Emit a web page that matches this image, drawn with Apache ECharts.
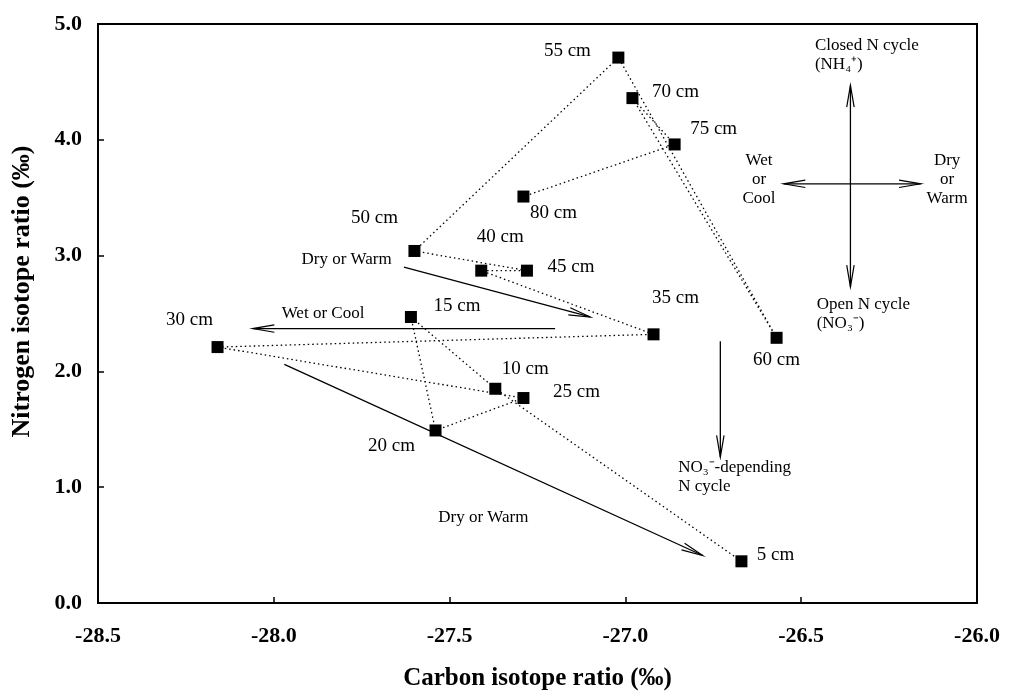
<!DOCTYPE html>
<html>
<head>
<meta charset="utf-8">
<script src="https://cdn.jsdelivr.net/npm/echarts@6/dist/echarts.min.js"></script>
<style>html,body{margin:0;padding:0;background:#fff;}#c{width:1009px;height:696px;}</style>
</head>
<body>
<div id="c"></div>
<script>
// ---- data ----
const depthLabels = ['5 cm','10 cm','15 cm','20 cm','25 cm','30 cm','35 cm','40 cm','45 cm','50 cm','55 cm','60 cm','70 cm','75 cm','80 cm'];
const carbon   = [-26.67,-27.37,-27.61,-27.54,-27.29,-28.16,-26.92,-27.41,-27.28,-27.60,-27.02,-26.57,-26.98,-26.86,-27.29];
const nitrogen = [0.36, 1.85, 2.47, 1.49, 1.77, 2.21, 2.32, 2.87, 2.87, 3.04, 4.71, 2.29, 4.36, 3.96, 3.51];
const xTicks = [-28.5,-28.0,-27.5,-27.0,-26.5,-26.0];
const yTicks = [0,1,2,3,4,5];

// annotation arrows: start (x,y), end (x,y), double-headed flag
const arrowStartX = [-27.63,-27.20,-27.97,-26.73,-26.36,-26.55];
const arrowStartY = [ 2.90,  2.37,  2.06,  2.26,  2.73,  3.62];
const arrowEndX   = [-27.10,-28.06,-26.78,-26.73,-26.36,-26.16];
const arrowEndY   = [ 2.47,  2.37,  0.41,  1.26,  4.47,  3.62];
const arrowHeadStart = [0,0,0,0,1,1];

// annotation texts
const noteTexts = ['Dry or Warm','Wet or Cool','Dry or Warm','NO\u2083\u207B-depending\nN cycle','Closed N cycle\n(NH\u2084\u207A)','Open N cycle\n(NO\u2083\u207B)','Wet\nor\nCool','Dry\nor\nWarm'];
const noteX = [-27.793,-27.86,-27.404,-26.850,-26.461,-26.456,-26.62,-26.085];
const noteY = [ 2.962, 2.504, 0.734, 1.084, 4.732, 2.496, 3.653, 3.653];

// ---- styling (positions of labels relative to points) ----
const labelOffsets = [[34,-6],[30,-20],[46,-11],[-44,16],[53,-6],[-28,-27],[22,-36],[19,-34],[44,-4],[-40,-33],[-51,-7],[0,22],[43,-6],[39,-15],[30,16]];
const noteAlign = ['center','center','center','left','left','left','center','center'];

const FONT = '"Liberation Serif","Times New Roman",serif';

const chart = echarts.init(document.getElementById('c'), null, {renderer:'canvas'});

const pointData = carbon.map((c,i)=>({
  value:[c, nitrogen[i]],
  name: depthLabels[i],
  label:{offset: labelOffsets[i]}
}));

const arrowData = arrowStartX.map((x,i)=>[x, arrowStartY[i], arrowEndX[i], arrowEndY[i], arrowHeadStart[i]]);
const noteData = noteX.map((x,i)=>[x, noteY[i]]);

function head(tip, from){
  const ang = Math.atan2(from[1]-tip[1], from[0]-tip[0]);
  const L = 22, a = 0.17;
  return {
    type:'polyline',
    shape:{points:[[tip[0]+L*Math.cos(ang+a), tip[1]+L*Math.sin(ang+a)], tip, [tip[0]+L*Math.cos(ang-a), tip[1]+L*Math.sin(ang-a)]]},
    style:{stroke:'#000', fill:null, lineWidth:1.2}
  };
}

const option = {
  animation:false,
  backgroundColor:'#fff',
  grid:{left:98, right:32, top:24, bottom:93, show:true, borderColor:'#000', borderWidth:2, backgroundColor:'transparent'},
  xAxis:{
    type:'value', min:xTicks[0], max:xTicks[xTicks.length-1], interval:0.5,
    name:'Carbon isotope ratio (\u2030)', nameLocation:'middle', nameGap:63,
    nameTextStyle:{fontFamily:FONT, fontWeight:'bold', fontSize:25, color:'#000'},
    axisLine:{show:true, onZero:false, lineStyle:{color:'#000', width:2}},
    axisTick:{show:true, inside:true, length:6, lineStyle:{color:'#000', width:1.5}},
    axisLabel:{margin:22, fontFamily:FONT, fontWeight:'bold', fontSize:22, color:'#000', formatter:v=>v.toFixed(1)},
    splitLine:{show:false}
  },
  yAxis:{
    type:'value', min:yTicks[0], max:yTicks[yTicks.length-1], interval:1,
    name:'Nitrogen isotope ratio (\u2030)', nameLocation:'middle', nameGap:63,
    nameTextStyle:{fontFamily:FONT, fontWeight:'bold', fontSize:26, color:'#000', padding:[0,0,0,44]},
    axisLine:{show:true, onZero:false, lineStyle:{color:'#000', width:2}},
    axisTick:{show:true, inside:true, length:6, lineStyle:{color:'#000', width:1.5}},
    axisLabel:{margin:16, fontFamily:FONT, fontWeight:'bold', fontSize:22, color:'#000', formatter:v=>v.toFixed(1)},
    splitLine:{show:false}
  },
  series:[
    {
      type:'line',
      data:pointData,
      symbol:'rect', symbolSize:12,
      itemStyle:{color:'#000'},
      lineStyle:{color:'#000', width:1.3, type:[1.5,3]},
      label:{show:true, position:'inside', formatter:'{b}', fontFamily:FONT, fontSize:19, color:'#000', align:'center', verticalAlign:'middle'},
      z:3
    },
    {
      type:'custom',
      data:arrowData,
      encode:{x:[0,2], y:[1,3]},
      silent:true,
      renderItem:function(params, api){
        const p1 = api.coord([api.value(0), api.value(1)]);
        const p2 = api.coord([api.value(2), api.value(3)]);
        const children = [{type:'line', shape:{x1:p1[0],y1:p1[1],x2:p2[0],y2:p2[1]}, style:{stroke:'#000', lineWidth:1.3}}];
        children.push(head(p2, p1));
        if (api.value(4)) children.push(head(p1, p2));
        return {type:'group', children:children};
      },
      z:2
    },
    {
      type:'custom',
      data:noteData,
      encode:{x:0, y:1},
      silent:true,
      renderItem:function(params, api){
        const p = api.coord([api.value(0), api.value(1)]);
        const i = params.dataIndex;
        return {
          type:'text',
          x:p[0], y:p[1],
          style:{text:noteTexts[i], fill:'#000', font:'17px '+FONT, align:noteAlign[i], verticalAlign:'middle', lineHeight:19}
        };
      },
      z:2
    }
  ]
};
chart.setOption(option);
</script>
</body>
</html>
